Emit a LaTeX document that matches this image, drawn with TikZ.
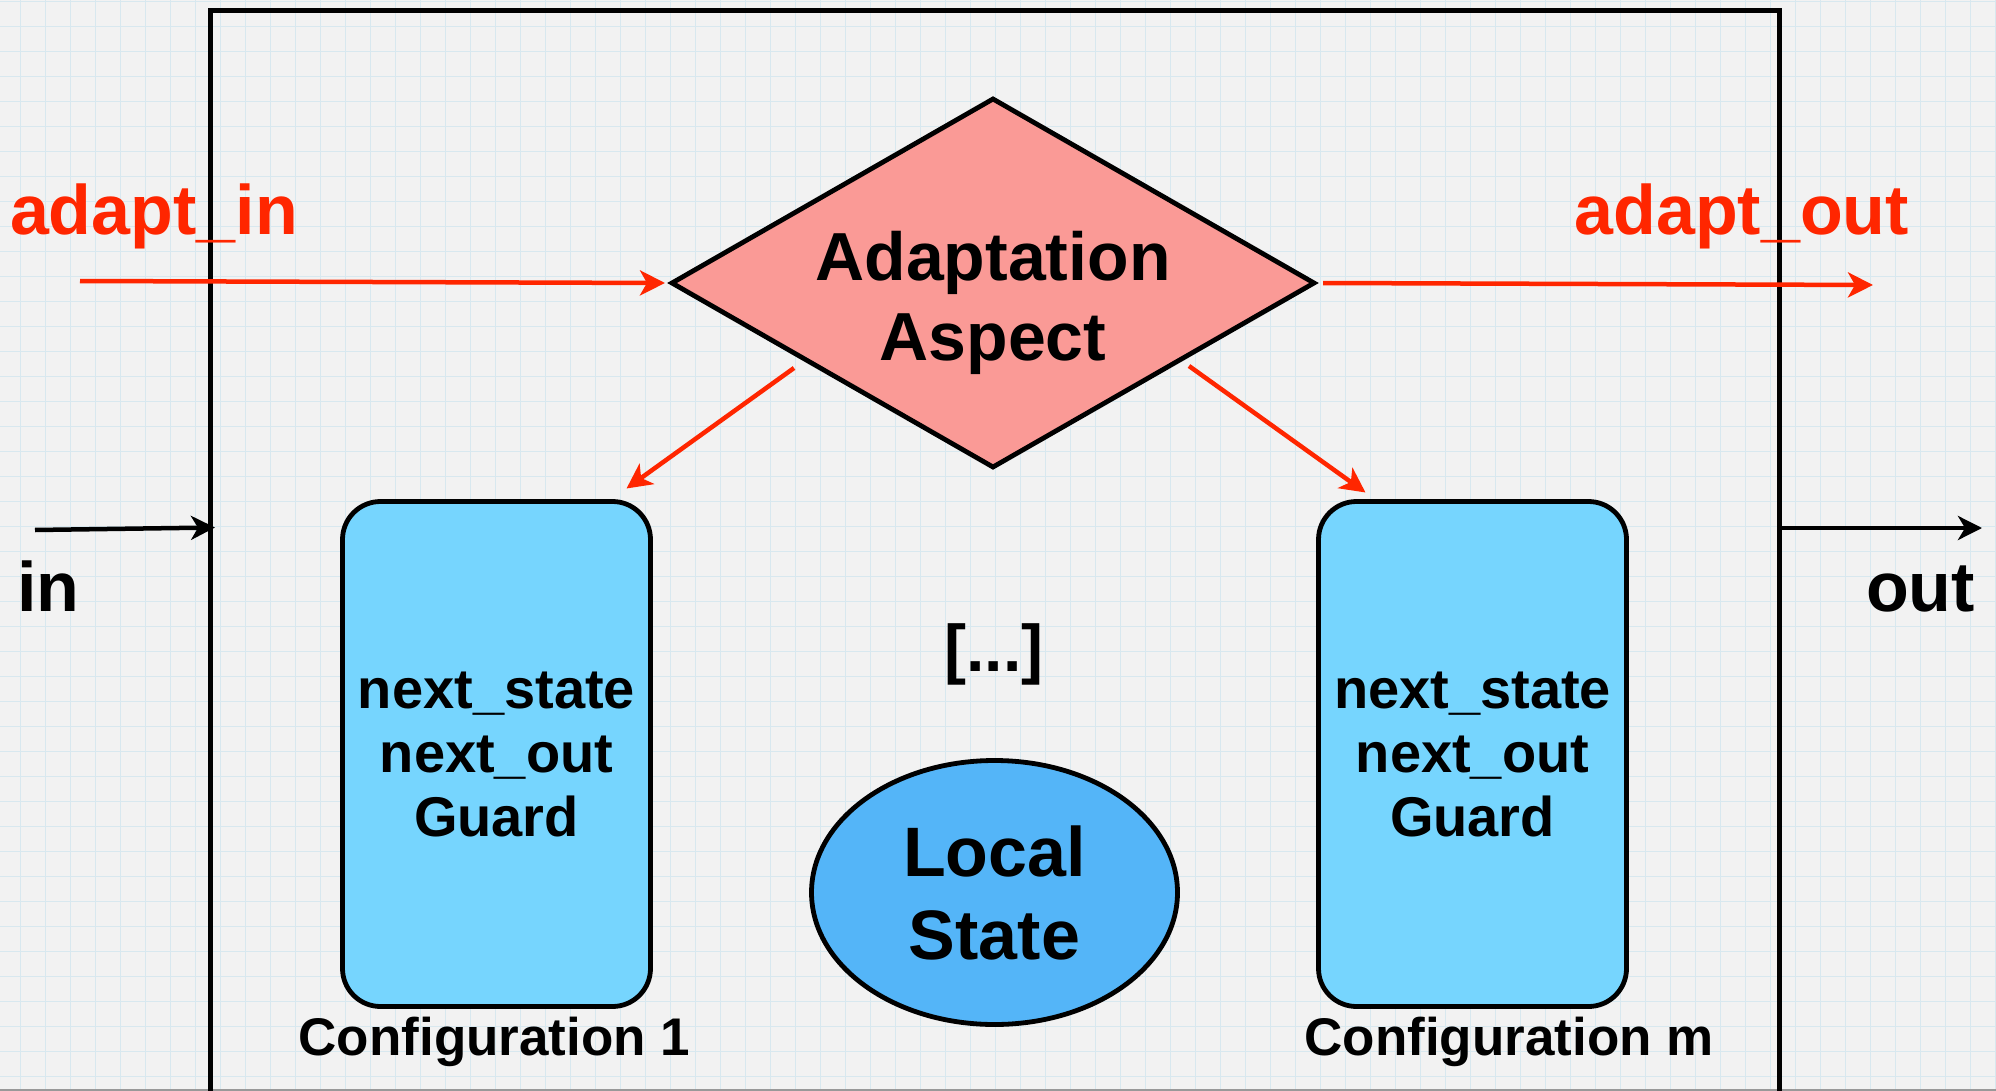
\documentclass[tikz,border=0pt]{standalone}
\usepackage{fontspec}
\setmainfont{Liberation Sans}
\usetikzlibrary{arrows.meta,shapes.geometric}

\definecolor{paper}{HTML}{F2F2F2}
\definecolor{gridblue}{HTML}{D8E8EF}
\definecolor{signalred}{HTML}{FF2600}
\definecolor{aspectpink}{HTML}{FA9A96}
\definecolor{configblue}{HTML}{76D5FE}
\definecolor{stateblue}{HTML}{54B5F8}

% bold text of a given size and line spacing
\newcommand\boldsize[2]{\fontsize{#1}{#2}\selectfont\bfseries}

\begin{document}
\begin{tikzpicture}[x=1pt,y=-1pt,
  every node/.style={inner sep=0pt, outer sep=0pt},
  gridline/.style={draw=gridblue, line width=1.5pt},
  modulebox/.style={rectangle, draw=black, line width=5pt, minimum width=1568.4pt, minimum height=1300pt},
  shapeline/.style={draw=black, line width=4.8pt},
  adaptshape/.style={diamond, shapeline, fill=aspectpink, minimum width=642pt, minimum height=368pt},
  config/.style={rectangle, rounded corners=38pt, shapeline, fill=configblue,
    minimum width=308pt, minimum height=505pt, align=center, font=\boldsize{56}{64}},
  localstate/.style={ellipse, shapeline, fill=stateblue, minimum width=366pt, minimum height=264pt,
    align=center, font=\boldsize{70}{83}},
  redlabel/.style={text=signalred, font=\boldsize{70}{84}},
  blacklabel/.style={text=black, font=\boldsize{70}{84}},
  cfglabel/.style={font=\boldsize{53}{64}},
  redarrow/.style={draw=signalred, line width=4.5pt, -{Stealth[length=25pt,width=25pt,inset=7pt]}},
  blackarrow/.style={draw=black, line width=4.5pt, -{Stealth[length=24pt,width=24pt,inset=7pt]}},
]
\useasboundingbox (0,0) rectangle (1996,1091);
\clip (0,0) rectangle (1996,1091);

% squared paper
\fill[paper] (0,0) rectangle (1996,1091);
\foreach \k in {0,...,79} \draw[gridline] (20.7+25*\k,0) -- (20.7+25*\k,1091);
\foreach \k in {0,...,43} \draw[gridline] (0,1.7+25*\k) -- (1996,1.7+25*\k);
\draw[draw=black!40, line width=1.5pt] (0,1089.8) -- (1996,1089.8);

% the module frame, open at the bottom
\node[modulebox, anchor=north west] (module) at (210.8,10.8) {};

% adaptation aspect
\node[adaptshape] (adapt) at (993,283) {};
\node[align=center, font=\boldsize{68}{80}] (adapttext) at (993,303) {Adaptation\\Aspect};

% configurations
\node[config] (cfg1) at (496.5,754) {next\_state\\next\_out\\Guard};
\node[config] (cfgm) at (1472.5,754) {next\_state\\next\_out\\Guard};
\node[cfglabel, anchor=base] (cfg1label) at (494.5,1055) {Configuration 1};
\node[cfglabel, anchor=base] (cfgmlabel) at (1509,1055) {Configuration m};

% elided configurations and local state
\node[font=\boldsize{66}{78}, anchor=base] (dots) at (994,671) {[...]};
\node[localstate] (state) at (994.5,892.5) {Local\\State};

% port labels
\node[redlabel, anchor=base west] (adaptinlabel) at (10,235) {adapt\_in};
\node[redlabel, anchor=base east] (adaptoutlabel) at (1909,235) {adapt\_out};
\node[blacklabel, anchor=base west] (inlabel) at (17.5,611) {in};
\node[blacklabel, anchor=base east] (outlabel) at (1975,611) {out};

% connector end points
\coordinate (adaptin) at (80,281);
\coordinate (adaptout) at (1873,285);
\coordinate (instart) at (35,530);
\coordinate (inend) at (215,527.5);
\coordinate (outstart) at (1779,528);
\coordinate (outend) at (1982,528);

% adaptation signals
\draw[redarrow] (adaptin) -- ([xshift=-7pt]adapt.west);
\draw[redarrow] ([xshift=9pt]adapt.east) -- (adaptout);
\draw[redarrow] ([shift={(-199,-99)}]adapt.south) -- ([shift={(-24,-13)}]cfg1.north east);
\draw[redarrow] ([shift={(196,-101)}]adapt.south) -- ([shift={(47,-9)}]cfgm.north west);

% data ports
\draw[blackarrow] (instart) -- (inend);
\draw[blackarrow] (outstart) -- (outend);
\end{tikzpicture}
\end{document}
